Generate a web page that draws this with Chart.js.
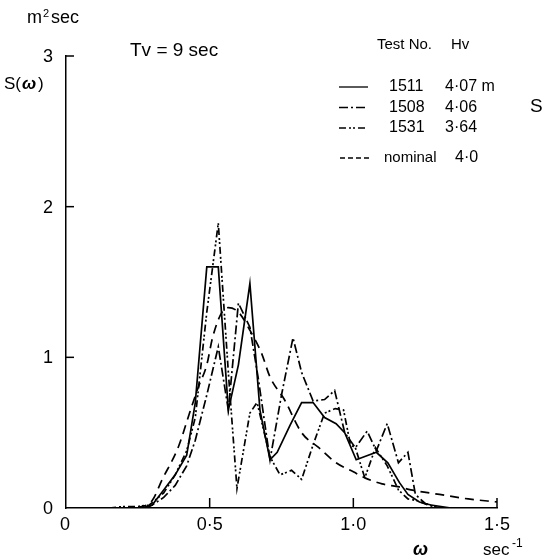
<!DOCTYPE html>
<html>
<head>
<meta charset="utf-8">
<script src="https://cdn.jsdelivr.net/npm/chart.js@4.4.1/dist/chart.umd.min.js"></script>
<style>
    html, body { margin: 0; padding: 0; background: #fff; }
    #wrap { width: 545px; height: 558px; position: relative; }
</style>
</head>
<body>
<div id="wrap"><canvas id="myChart" width="545" height="558"></canvas></div>
<script>
// test 1511, solid
const omega1511 = [0.15, 0.20, 0.26, 0.30, 0.34, 0.38, 0.42, 0.45, 0.49, 0.53, 0.565, 0.60, 0.64, 0.675, 0.71, 0.735, 0.78, 0.82, 0.86, 0.90, 0.94, 0.97, 1.01, 1.08, 1.12, 1.16, 1.19, 1.23, 1.27, 1.34];
const s1511 = [0.0, 0.0, 0.0, 0.02, 0.12, 0.22, 0.35, 0.70, 1.60, 1.60, 0.65, 0.95, 1.49, 0.65, 0.32, 0.37, 0.55, 0.70, 0.70, 0.60, 0.56, 0.50, 0.32, 0.37, 0.30, 0.17, 0.09, 0.04, 0.02, 0.0];

// test 1508, dash-dot
const omega1508 = [0.28, 0.30, 0.34, 0.38, 0.42, 0.45, 0.49, 0.53, 0.565, 0.60, 0.64, 0.67, 0.71, 0.75, 0.79, 0.82, 0.86, 0.90, 0.935, 0.97, 1.007, 1.048, 1.08, 1.118, 1.157, 1.19, 1.216, 1.25, 1.30];
const s1508 = [0.0, 0.02, 0.07, 0.15, 0.28, 0.45, 0.75, 1.07, 0.65, 1.36, 1.20, 0.85, 0.32, 0.75, 1.13, 0.90, 0.71, 0.72, 0.78, 0.50, 0.40, 0.51, 0.38, 0.56, 0.30, 0.37, 0.09, 0.03, 0.0];

// test 1531, dash-dot-dot
const omega1531 = [0.15, 0.20, 0.25, 0.29, 0.34, 0.38, 0.42, 0.45, 0.49, 0.53, 0.565, 0.595, 0.64, 0.665, 0.71, 0.745, 0.785, 0.82, 0.86, 0.90, 0.937, 0.966, 0.99, 1.007, 1.04, 1.077, 1.118, 1.157, 1.19, 1.22, 1.26, 1.30];
const s1531 = [0.0, 0.01, 0.01, 0.02, 0.10, 0.22, 0.38, 0.60, 1.30, 1.89, 0.90, 0.13, 0.63, 0.70, 0.34, 0.22, 0.25, 0.19, 0.42, 0.63, 0.66, 0.65, 0.42, 0.40, 0.20, 0.40, 0.28, 0.12, 0.06, 0.05, 0.02, 0.0];

// nominal spectrum, dashed
const omegaNominal = [0.25, 0.30, 0.335, 0.39, 0.43, 0.46, 0.49, 0.51, 0.54, 0.565, 0.60, 0.64, 0.68, 0.71, 0.76, 0.82, 0.88, 0.94, 1.00, 1.04, 1.10, 1.16, 1.20, 1.30, 1.40, 1.50];
const sNominal = [0.0, 0.05, 0.19, 0.40, 0.63, 0.80, 0.95, 1.13, 1.29, 1.33, 1.30, 1.18, 1.03, 0.87, 0.72, 0.50, 0.40, 0.30, 0.24, 0.20, 0.16, 0.14, 0.12, 0.09, 0.06, 0.04];

const xTicks = [0, 0.5, 1.0, 1.5];
const xTickLabels = ['0', '0·5', '1·0', '1·5'];
const yTicks = [0, 1, 2, 3];
const yTickLabels = ['0', '1', '2', '3'];

const legendRows = [
    { dash: [], test: '1511', hv: '4·07 m' },
    { dash: [9, 3, 2, 3], test: '1508', hv: '4·06' },
    { dash: [7, 3, 2, 2, 2, 3], test: '1531', hv: '3·64' }
];

const FONT = '"Liberation Sans", Arial, sans-serif';

function toPoints(xs, ys) {
    return xs.map(function (x, i) { return { x: x, y: ys[i] }; });
}

const annotate = {
    id: 'annotate',
    afterDraw: function (chart) {
        const ctx = chart.ctx;
        const xs = chart.scales.x;
        const ys = chart.scales.y;
        const x0 = xs.getPixelForValue(0);
        const y0 = ys.getPixelForValue(0);
        ctx.save();
        ctx.strokeStyle = '#000';
        ctx.fillStyle = '#000';
        ctx.lineWidth = 1.5;
        ctx.setLineDash([]);

        // inward ticks
        xTicks.forEach(function (v) {
            if (v === 0) return;
            const px = xs.getPixelForValue(v);
            ctx.beginPath();
            ctx.moveTo(px, y0);
            ctx.lineTo(px, y0 - 10);
            ctx.stroke();
        });
        yTicks.forEach(function (v) {
            if (v === 0) return;
            const py = ys.getPixelForValue(v);
            ctx.beginPath();
            ctx.moveTo(x0, py);
            ctx.lineTo(x0 + 8, py);
            ctx.stroke();
        });

        // tick labels
        ctx.font = '18px ' + FONT;
        ctx.textBaseline = 'top';
        ctx.textAlign = 'center';
        xTicks.forEach(function (v, i) {
            let px = xs.getPixelForValue(v);
            if (v === 0) px -= 1;
            ctx.fillText(xTickLabels[i], px, y0 + 8);
        });
        ctx.textAlign = 'right';
        ctx.textBaseline = 'middle';
        yTicks.forEach(function (v, i) {
            ctx.fillText(yTickLabels[i], x0 - 13, ys.getPixelForValue(v) + 1);
        });

        // axis titles
        ctx.textAlign = 'left';
        ctx.font = '18px ' + FONT;
        ctx.fillText('m', 27, 18);
        ctx.font = '11px ' + FONT;
        ctx.fillText('2', 43, 14);
        ctx.font = '18px ' + FONT;
        ctx.fillText('sec', 51, 18);
        ctx.font = '17px ' + FONT;
        ctx.fillText('S(', 4, 84);
        ctx.font = 'bold italic 17px ' + FONT;
        ctx.fillText('ω', 22, 84);
        ctx.font = '17px ' + FONT;
        ctx.fillText(')', 38, 84);

        ctx.font = 'bold italic 18px ' + FONT;
        ctx.fillText('ω', 413, 550);
        ctx.font = '17px ' + FONT;
        ctx.fillText('sec', 483, 550);
        ctx.font = '12px ' + FONT;
        ctx.fillText('-1', 512, 544);

        ctx.font = '19px ' + FONT;
        ctx.fillText('Tv = 9 sec', 130, 51);

        // legend
        ctx.font = '15px ' + FONT;
        ctx.fillText('Test No.', 377, 45);
        ctx.fillText('Hv', 451, 45);
        ctx.font = '16px ' + FONT;
        legendRows.forEach(function (r, i) {
            const yy = 87 + i * 20.5;
            ctx.setLineDash(r.dash);
            ctx.lineWidth = 1.3;
            ctx.beginPath();
            ctx.moveTo(339, yy);
            ctx.lineTo(368, yy);
            ctx.stroke();
            ctx.setLineDash([]);
            ctx.fillText(r.test, 389, yy);
            ctx.fillText(r.hv, 445, yy);
        });
        ctx.setLineDash([5, 3]);
        ctx.beginPath();
        ctx.moveTo(340, 158);
        ctx.lineTo(372, 158);
        ctx.stroke();
        ctx.setLineDash([]);
        ctx.font = '15px ' + FONT;
        ctx.fillText('nominal', 384, 158);
        ctx.font = '16px ' + FONT;
        ctx.fillText('4·0', 455, 158);
        ctx.font = '19px ' + FONT;
        ctx.fillText('S', 530, 107);

        ctx.restore();
    }
};

function lineSet(label, xs, ys, dash, smooth) {
    return {
        label: label,
        data: toPoints(xs, ys),
        borderColor: '#000',
        borderWidth: 1.7,
        borderDash: dash,
        pointRadius: 0,
        fill: false,
        tension: 0,
        cubicInterpolationMode: smooth ? 'monotone' : 'default'
    };
}

const config = {
    type: 'line',
    data: {
        datasets: [
            lineSet('1511', omega1511, s1511, [], false),
            lineSet('1508', omega1508, s1508, [9, 3, 2, 3], false),
            lineSet('1531', omega1531, s1531, [7, 3, 2, 2, 2, 3], false),
            lineSet('nominal', omegaNominal, sNominal, [9, 6], true)
        ]
    },
    options: {
        responsive: false,
        animation: false,
        layout: {
            padding: { left: 66, right: 48, top: 56, bottom: 50 }
        },
        plugins: {
            legend: { display: false },
            tooltip: { enabled: false }
        },
        scales: {
            x: {
                type: 'linear',
                min: 0,
                max: 1.5,
                grid: { display: false },
                ticks: { display: false },
                border: { display: true, color: '#000', width: 1.5 },
                afterFit: function (scale) { scale.height = 0; }
            },
            y: {
                type: 'linear',
                min: 0,
                max: 3,
                grid: { display: false },
                ticks: { display: false },
                border: { display: true, color: '#000', width: 1.5 },
                afterFit: function (scale) { scale.width = 0; }
            }
        }
    },
    plugins: [annotate]
};

var myChart = new Chart(document.getElementById('myChart'), config);
</script>
</body>
</html>
